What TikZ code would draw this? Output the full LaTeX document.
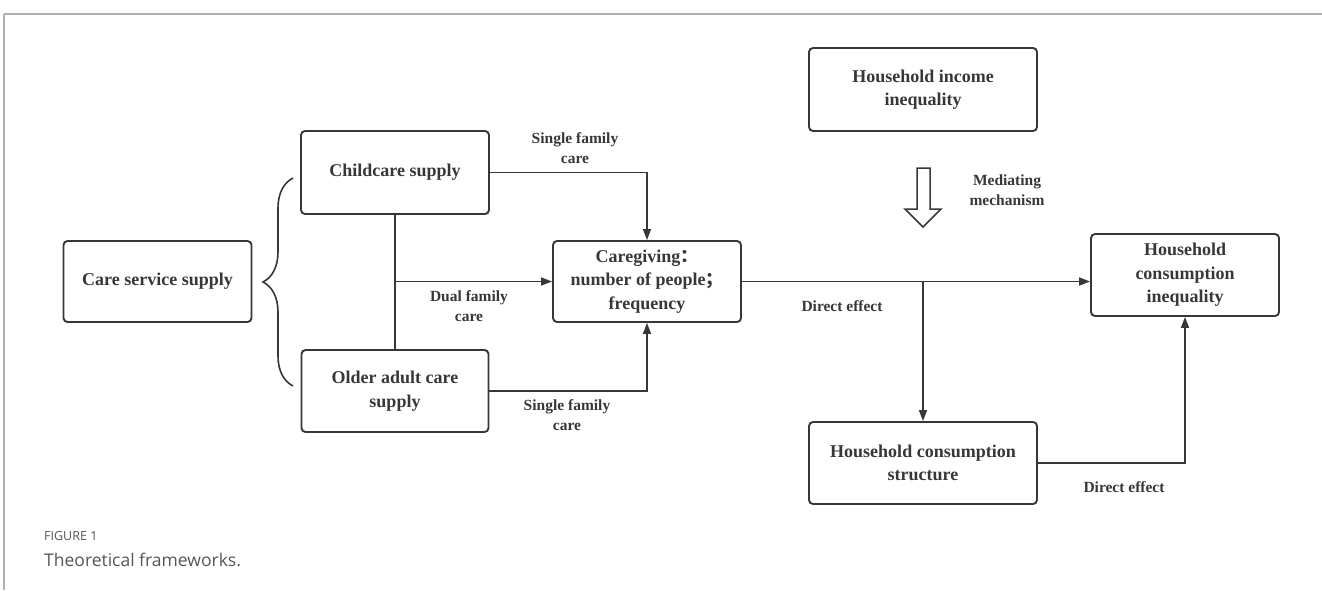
\documentclass[tikz,border=0pt]{standalone}
\usepackage{fontspec}
\setmainfont{Liberation Serif}
\newfontfamily\capfont{Open Sans}
\newfontfamily\cjk{Noto Sans CJK SC}
\usetikzlibrary{arrows.meta,decorations.pathreplacing}
\definecolor{lc}{RGB}{55,55,55}
\definecolor{framec}{RGB}{175,175,175}
\definecolor{capc}{RGB}{85,85,85}
\begin{document}
\begin{tikzpicture}[x=1pt,y=-1pt,
  box/.style={draw=lc, line width=1.9pt, rounded corners=4pt, align=center,
    inner sep=0pt, text=lc, font=\bfseries\fontsize{18}{23.5}\selectfont},
  lbl/.style={align=center, inner sep=0pt, text=lc, font=\bfseries\fontsize{15.5}{20}\selectfont},
  conn/.style={draw=lc, line width=1.6pt},
  arr/.style={conn, -{Triangle[length=11pt,width=8pt]}}]
\useasboundingbox (0,0) rectangle (1322,590);
% frame lines
\draw[framec, line width=1.5pt] (4,14) -- (1322,14);
\draw[framec, line width=1.2pt] (4,14) -- (4,590);
% boxes
\node[box, minimum width=188pt, minimum height=81pt] (css) at (157.5,281.5) {Care service supply};
\node[box, minimum width=188pt, minimum height=83pt] (child) at (395,172.5) {Childcare supply};
\node[box, minimum width=188pt, minimum height=81pt] (cg) at (647,281.5) {Caregiving{\cjk ：}\\number of people{\cjk ；}\\frequency};
\node[box, minimum width=187pt, minimum height=82pt] (older) at (395,391) {Older adult care\\supply};
\node[box, minimum width=228pt, minimum height=83pt] (inc) at (923,89.5) {Household income\\inequality};
\node[box, minimum width=188pt, minimum height=82pt] (cons) at (1185,275) {Household\\consumption\\inequality};
\node[box, minimum width=228pt, minimum height=82pt] (struct) at (923,463) {Household consumption\\structure};
% brace
\draw[conn, decorate, decoration={brace, amplitude=30pt}] (293,386) -- (293,178);
% connectors
\draw[arr] (child.east) -| (cg.north);
\draw[arr] (older.east) -| (cg.south);
\draw[conn] (child.south) -- (older.north);
\coordinate (j1) at (child.south |- cg.west);
\draw[arr] (j1) -- (cg.west);
\draw[arr] (cg.east) -- (cg.east -| cons.west);
\coordinate (j2) at (struct.north |- cg.east);
\draw[arr] (j2) -- (struct.north);
\draw[arr] (struct.east) -| (cons.south);
% hollow arrow
\draw[lc, line width=1.5pt, line join=miter] (917,168) -- (930,168) -- (930,209) -- (941,209) -- (923,227) -- (905,209) -- (917,209) -- cycle;
% labels
\node[lbl] (l1) at (575,148) {Single family\\care};
\node[lbl] (l2) at (469,306) {Dual family\\care};
\node[lbl] (l3) at (567,415) {Single family\\care};
\node[lbl] (l4) at (842,306) {Direct effect};
\node[lbl] (l5) at (1007,190) {Mediating\\mechanism};
\node[lbl] (l6) at (1124,487) {Direct effect};
% caption
\node[anchor=west, inner sep=0pt, text=capc, font=\capfont\fontsize{12.5}{14}\selectfont] (cap1) at (44,536) {FIGURE 1};
\node[anchor=west, inner sep=0pt, text=capc, font=\capfont\fontsize{17.5}{20}\selectfont] (cap2) at (44,560) {Theoretical frameworks.};
\end{tikzpicture}
\end{document}
